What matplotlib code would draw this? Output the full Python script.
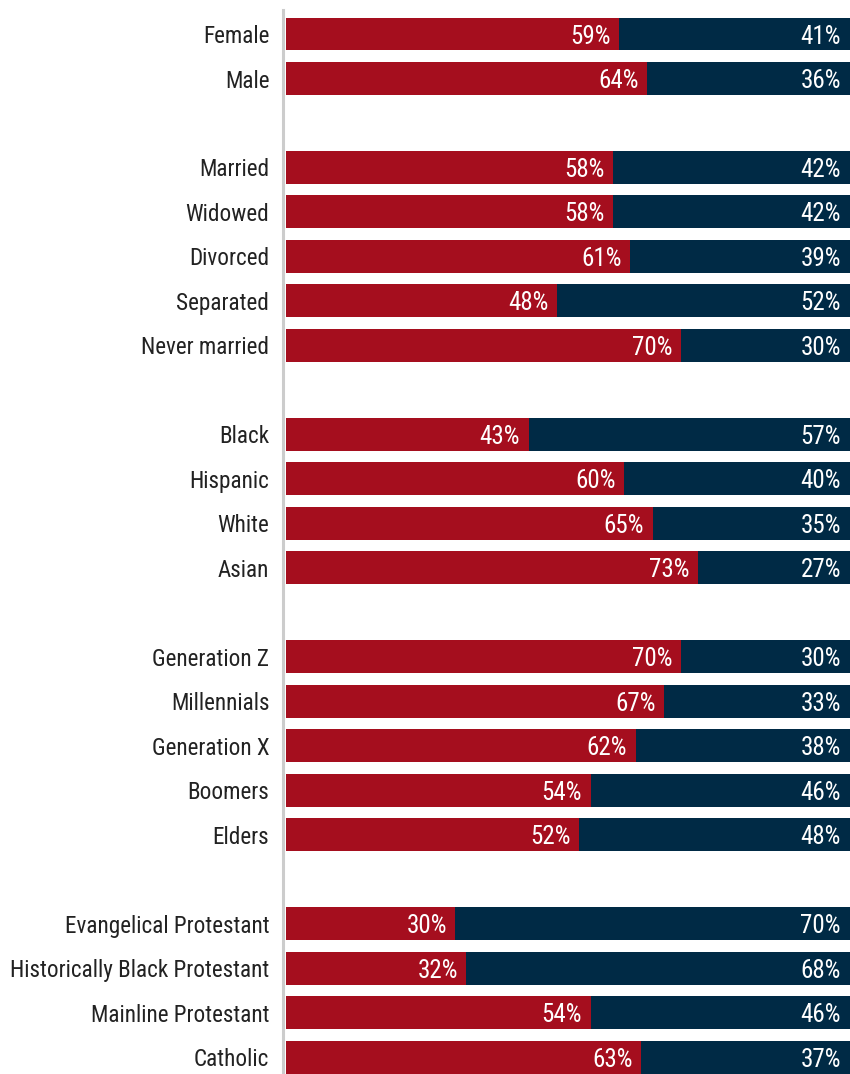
import matplotlib
matplotlib.use("Agg")
import matplotlib.pyplot as plt
from matplotlib import font_manager

# row labels, None marks a blank spacer row between groups
labels = ["Female", "Male", None,
          "Married", "Widowed", "Divorced", "Separated", "Never married", None,
          "Black", "Hispanic", "White", "Asian", None,
          "Generation Z", "Millennials", "Generation X", "Boomers", "Elders", None,
          "Evangelical Protestant", "Historically Black Protestant",
          "Mainline Protestant", "Catholic"]

left_pct = [59, 64, None,
            58, 58, 61, 48, 70, None,
            43, 60, 65, 73, None,
            70, 67, 62, 54, 52, None,
            30, 32, 54, 63]

right_pct = [41, 36, None,
             42, 42, 39, 52, 30, None,
             57, 40, 35, 27, None,
             30, 33, 38, 46, 48, None,
             70, 68, 46, 37]

RED = "#A50E1E"
NAVY = "#002A45"

# pick a condensed sans-serif
names = {f.name for f in font_manager.fontManager.ttflist}
font = "DejaVu Sans"
for cand in ["Roboto Condensed", "Archivo Narrow", "Liberation Sans Narrow"]:
    if cand in names:
        font = cand
        break
plt.rcParams["font.family"] = [font, "DejaVu Sans"]
plt.rcParams["font.stretch"] = "condensed"

fig = plt.figure(figsize=(8.5, 10.74), dpi=100)
ax = fig.add_axes([286 / 850, 0, 1 - 286 / 850, 1064 / 1074])

rows = [i for i, l in enumerate(labels) if l is not None]
lv = [left_pct[i] for i in rows]
rv = [right_pct[i] for i in rows]

ax.barh(rows, lv, height=0.74, color=RED, linewidth=0)
ax.barh(rows, rv, left=lv, height=0.74, color=NAVY, linewidth=0)

for y, a, b in zip(rows, lv, rv):
    ax.annotate(f"{a}%", (a, y), xytext=(-6, 0), textcoords="offset points",
                ha="right", va="center_baseline", color="white", fontsize=18)
    ax.annotate(f"{b}%", (a + b, y), xytext=(-6.5, 0), textcoords="offset points",
                ha="right", va="center_baseline", color="white", fontsize=18)

ax.set_yticks(rows)
ax.set_yticklabels([labels[i] for i in rows])
ax.tick_params(axis="y", length=0, pad=10, labelsize=16.7, labelcolor="#222222")
ax.set_xticks([])
ax.set_xlim(0, 100)
ax.set_ylim(23.38, -0.54)

for s in ["top", "right", "bottom"]:
    ax.spines[s].set_visible(False)
ax.spines["left"].set_color("#cccccc")
ax.spines["left"].set_linewidth(2.2)
ax.spines["left"].set_position(("outward", 2))

fig.savefig("out.png", dpi=100)
